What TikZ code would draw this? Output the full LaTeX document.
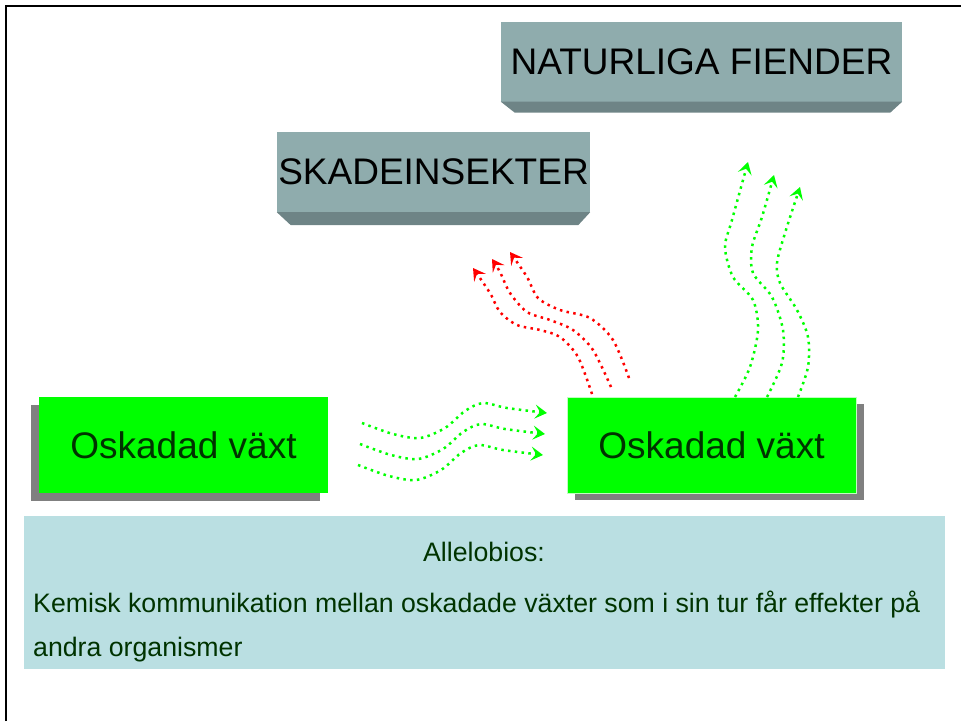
\documentclass[tikz,border=0pt]{standalone}
\usepackage{fontspec}
\setmainfont{Liberation Sans}
\usetikzlibrary{arrows.meta}
\usetikzlibrary{shadows}

\definecolor{slate}{RGB}{143,172,173}
\definecolor{slatedark}{RGB}{110,132,134}
\definecolor{leafgreen}{RGB}{0,255,0}
\definecolor{darkleaf}{RGB}{0,51,0}
\definecolor{shadowgray}{RGB}{128,128,128}
\definecolor{paleblue}{RGB}{186,223,226}

\begin{document}
\begin{tikzpicture}[x=1pt,y=-1pt,>={Stealth[length=12pt,width=14pt,inset=5pt]},
  scent/.style={->,line width=2.5pt,dash pattern=on 2.5pt off 4.3pt},
  plant node/.style={fill=leafgreen,text=darkleaf,inner sep=0pt,
  font=\fontsize{37}{40}\selectfont,minimum width=289pt,minimum height=96pt},
  enemy node/.style={fill=slate,inner sep=0pt,
  font=\fontsize{37}{40}\selectfont,minimum height=80pt},
  note text/.style={text=darkleaf,inner sep=0pt,font=\fontsize{26.7}{30}\selectfont}]
  \useasboundingbox (0,0) rectangle (961,721);

  % frame
  \draw[line width=2.2pt] (6,721) -- (6,6) -- (961,6);

  % enemies
  \node[enemy node,minimum width=401pt] (fiender) at (701.5,61.5) {NATURLIGA FIENDER};
  \fill[slatedark] (fiender.south west) -- (fiender.south east)
    -- ++(-12,11) -- ([xshift=14pt,yshift=-11pt]fiender.south west) -- cycle;
  \node[enemy node,minimum width=313pt] (skade) at (433.5,172) {SKADEINSEKTER};
  \fill[slatedark] (skade.south west) -- (skade.south east)
    -- ++(-12,13) -- ([xshift=14pt,yshift=-13pt]skade.south west) -- cycle;

  % plants
  \node[plant node,drop shadow={shadow xshift=-8pt,shadow yshift=-8pt,
    fill=shadowgray,opacity=1}] (vaxtA) at (183.5,445) {Oskadad växt};
  \node[plant node,draw=green!25!white,line width=1pt,
    drop shadow={shadow xshift=8pt,shadow yshift=-7pt,
    fill=shadowgray,opacity=1}] (vaxtB) at (711.5,445) {Oskadad växt};

  % plant to plant
  \foreach \i in {0,1,2}
    \draw[scent,leafgreen,shift={(-2*\i,21*\i)}] plot[smooth] coordinates
      {(362,423) (393,434) (420,438) (445,428) (465,411) (483,403) (507,408) (547,413)};

  % to the pests
  \draw[scent,red] plot[smooth] coordinates
    {(592,394) (578,357) (560,337) (540,330) (517,325) (500,312) (490,293) (473,268)};
  \draw[scent,red] plot[smooth] coordinates
    {(611,387) (593,350) (573,330) (550,320) (527,312) (510,293) (500,272) (492,259)};
  \draw[scent,red] plot[smooth] coordinates
    {(629,378) (613,340) (590,318) (560,310) (538,298) (527,277) (510,252)};

  % to the enemies
  \draw[scent,leafgreen] plot[smooth] coordinates
    {(735,397) (750,367) (758,330) (753,300) (733,277) (725,247) (732,220) (748,162)};
  \draw[scent,leafgreen] plot[smooth] coordinates
    {(767,397) (782,363) (783,330) (772,297) (753,273) (752,247) (762,217) (774,175)};
  \draw[scent,leafgreen] plot[smooth] coordinates
    {(798,397) (808,367) (808,337) (797,310) (780,283) (777,263) (785,233) (800,187)};

  % explanation
  \node[fill=paleblue,minimum width=921pt,minimum height=153pt,inner sep=0pt,
    anchor=north west] (note) at (24,516) {};
  \node[note text,anchor=base] (rubrik) at (484,561) {Allelobios:};
  \node[note text,anchor=base west] (rad1) at (33,612)
    {Kemisk kommunikation mellan oskadade växter som i sin tur får effekter på};
  \node[note text,anchor=base west] (rad2) at (33,656) {andra organismer};
\end{tikzpicture}
\end{document}
